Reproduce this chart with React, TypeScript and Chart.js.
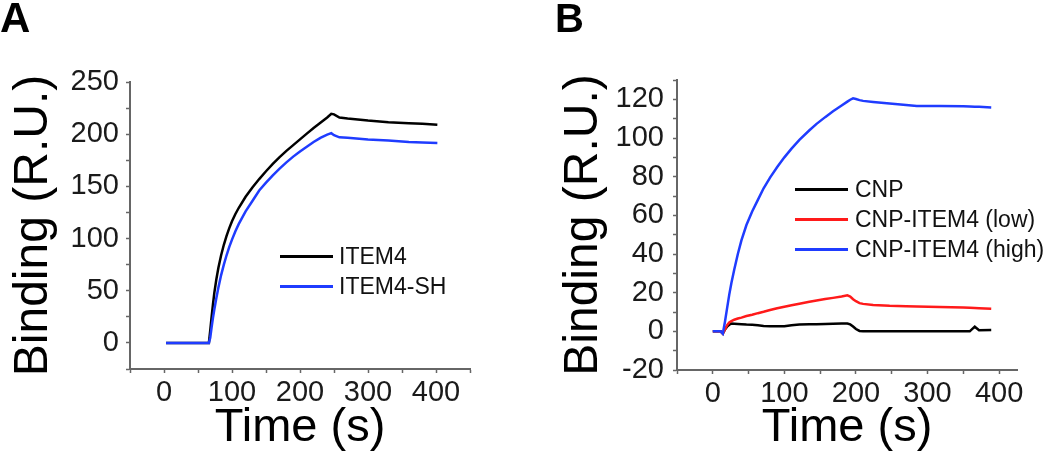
import { useEffect, useRef } from 'react';
import { Chart, registerables } from 'chart.js';

Chart.register(...registerables);

// ---------- Panel A data ----------
const timeA = [3, 30, 66, 68, 70, 72, 74, 77, 80, 84, 88, 92, 96, 100, 105, 110, 120, 130, 140, 150, 160, 170, 180, 190, 200, 210, 220, 230, 240, 246, 250, 258, 270, 300, 330, 360, 380, 402];
const item4 = [0, 0, 0, 12, 25, 37, 48, 61, 72, 84, 94, 102.5, 110, 116.5, 123.5, 129.5, 140, 149, 157, 164.5, 171.5, 178, 184, 189.5, 195, 200.5, 206, 211, 216, 219.5, 219, 216, 215, 213, 211.5, 210.5, 210, 209];
const item4SH = [0, 0, 0, 5, 15, 24, 32, 43, 53, 65, 75, 84, 92, 99, 107, 114, 126, 136, 146, 153.5, 160.5, 167, 173, 178.5, 183.5, 188, 192.5, 196.5, 199.5, 201, 199, 197, 196.5, 195, 194, 192.5, 192, 191.5];
const seriesNamesA = ['ITEM4', 'ITEM4-SH'];
const xLabelsA = [0, 100, 200, 300, 400];
const yLabelsA = [0, 50, 100, 150, 200, 250];

// ---------- Panel B data ----------
const timeB = [0, 11, 14, 17, 20, 23, 26, 30, 35, 40, 47, 55, 63, 71, 80, 90, 100, 110, 121, 135, 145, 157, 168, 180, 188, 192, 196, 200, 205, 210, 224, 247, 270, 285, 317, 350, 359, 366, 372, 389];
const cnp = [0, 0, -1.2, 1, 2.4, 3.4, 4, 3.9, 3.8, 3.7, 3.5, 3.4, 3.1, 2.8, 2.6, 2.6, 2.6, 3.2, 3.5, 3.6, 3.7, 3.8, 3.9, 4, 4, 3.6, 2.5, 1.2, 0.2, 0, 0, 0, 0, 0, 0, 0, 0, 2.4, 0.6, 0.7];
const cnpLow = [0, 0, -1.2, 1, 3.2, 4.6, 5.3, 6, 6.6, 7.1, 7.9, 8.6, 9.4, 10.1, 11, 11.9, 12.7, 13.5, 14.3, 15.3, 16, 16.7, 17.3, 18, 18.6, 18, 16.6, 15.6, 14.6, 14.2, 13.6, 13.2, 13, 12.8, 12.6, 12.3, 12.2, 12.1, 12, 11.7];
const cnpHigh = [0, 0, -1.2, 5, 12, 19, 25, 32, 40, 47, 55, 62, 68, 74, 79.5, 85, 90, 94.5, 99, 104, 107.3, 110.8, 113.8, 116.8, 118.8, 119.8, 120.5, 120.2, 119.6, 119.2, 118.6, 117.8, 117.1, 116.6, 116.6, 116.4, 116.3, 116.2, 116.1, 115.8];
const seriesNamesB = ['CNP', 'CNP-ITEM4 (low)', 'CNP-ITEM4 (high)'];
const xLabelsB = [0, 100, 200, 300, 400];
const yLabelsB = [-20, 0, 20, 40, 60, 80, 100, 120];

const FONT = "'Liberation Sans', Arial, Helvetica, sans-serif";
const AXIS = '#666666';
const BLACK = '#000000';
const BLUE = '#1f3cff';
const RED = '#ff1a1a';

const pts = (xs: number[], ys: number[]) => xs.map((x, i) => ({ x, y: ys[i] }));

const decorPlugin = {
  id: 'panelDecor',
  afterDraw(chart: any, _args: any, o: any) {
    const ctx = chart.ctx;
    ctx.save();
    // panel letter
    ctx.fillStyle = '#000';
    ctx.font = `bold ${o.letterSize}px ${FONT}`;
    ctx.textAlign = 'left';
    ctx.textBaseline = 'alphabetic';
    ctx.fillText(o.letter, o.letterX, o.letterY);
    // legend
    ctx.font = `${o.legendFont}px ${FONT}`;
    ctx.textBaseline = 'middle';
    chart.data.datasets.forEach((ds: any, i: number) => {
      const y = o.legendY + i * o.legendDy;
      ctx.strokeStyle = ds.borderColor;
      ctx.lineWidth = 3;
      ctx.beginPath();
      ctx.moveTo(o.legendX, y);
      ctx.lineTo(o.legendX + o.lineLen, y);
      ctx.stroke();
      ctx.fillStyle = '#111';
      ctx.fillText(ds.label, o.legendX + o.lineLen + o.textGap, y + 1);
    });
    ctx.restore();
  },
};

function axis(opts: any) {
  const { min, max, step, labels, position, fitSize, title, titlePad, tickPad } = opts;
  const horizontal = position === 'bottom';
  return {
    type: 'linear',
    position,
    min,
    max,
    ticks: {
      stepSize: step,
      autoSkip: false,
      includeBounds: false,
      maxRotation: 0,
      minRotation: 0,
      padding: tickPad,
      color: '#1a1a1a',
      font: { family: FONT, size: 29, lineHeight: 1.2 },
      callback: (v: number) => (labels.includes(v) ? String(v) : ''),
    },
    grid: {
      display: true,
      drawOnChartArea: false,
      drawTicks: true,
      tickLength: 4,
      tickColor: AXIS,
      tickWidth: 1.5,
    },
    border: { display: true, color: AXIS, width: 2 },
    title: {
      display: true,
      text: title,
      color: '#000',
      font: { family: FONT, size: horizontal ? 47 : 48, lineHeight: 1 },
      padding: horizontal ? { top: 0, bottom: titlePad } : { top: titlePad, bottom: 0 },
    },
    afterFit: (s: any) => {
      if (horizontal) s.height = fitSize;
      else s.width = fitSize;
    },
  };
}

const lineDs = (label: string, color: string, data: any[], order: number) => ({
  label,
  data,
  borderColor: color,
  backgroundColor: color,
  borderWidth: 2.5,
  pointRadius: 0,
  tension: 0,
  fill: false,
  order,
});

function configA(): any {
  return {
    type: 'line',
    data: {
      datasets: [
        lineDs(seriesNamesA[0], BLACK, pts(timeA, item4), 1),
        lineDs(seriesNamesA[1], BLUE, pts(timeA, item4SH), 0),
      ],
    },
    options: {
      animation: false,
      responsive: false,
      devicePixelRatio: 1,
      layout: { padding: { left: 0, top: 82, right: 55, bottom: 0 } },
      plugins: {
        legend: { display: false },
        tooltip: { enabled: false },
        panelDecor: {
          letter: 'A', letterX: 0, letterY: 32, letterSize: 42,
          legendX: 280, legendY: 256.5, legendDy: 30, lineLen: 53, textGap: 6, legendFont: 23,
        },
      },
      scales: {
        x: axis({ min: -50, max: 450, step: 50, labels: xLabelsA, position: 'bottom', fitSize: 89, title: 'Time (s)', titlePad: 6, tickPad: 3 }),
        y: axis({ min: -25, max: 250, step: 25, labels: yLabelsA, position: 'left', fitSize: 130, title: 'Binding (R.U.)', titlePad: 10, tickPad: 7 }),
      },
    },
    plugins: [decorPlugin],
  };
}

function configB(): any {
  return {
    type: 'line',
    data: {
      datasets: [
        lineDs(seriesNamesB[0], BLACK, pts(timeB, cnp), 2),
        lineDs(seriesNamesB[1], RED, pts(timeB, cnpLow), 1),
        lineDs(seriesNamesB[2], BLUE, pts(timeB, cnpHigh), 0),
      ],
    },
    options: {
      animation: false,
      responsive: false,
      devicePixelRatio: 1,
      layout: { padding: { left: 0, top: 80, right: 33, bottom: 0 } },
      plugins: {
        legend: { display: false },
        tooltip: { enabled: false },
        panelDecor: {
          letter: 'B', letterX: 30, letterY: 32, letterSize: 40,
          legendX: 270, legendY: 189.5, legendDy: 30, lineLen: 53, textGap: 7, legendFont: 23,
        },
      },
      scales: {
        x: axis({ min: -50, max: 425, step: 50, labels: xLabelsB, position: 'bottom', fitSize: 88, title: 'Time (s)', titlePad: 6, tickPad: 3 }),
        y: axis({ min: -20, max: 130, step: 10, labels: yLabelsB, position: 'left', fitSize: 152, title: 'Binding (R.U.)', titlePad: 35, tickPad: 9 }),
      },
    },
    plugins: [decorPlugin],
  };
}

function Panel({ make }: { make: () => any }) {
  const ref = useRef<HTMLCanvasElement | null>(null);
  useEffect(() => {
    if (!ref.current) return;
    const chart = new Chart(ref.current, make());
    return () => chart.destroy();
  }, [make]);
  return <canvas ref={ref} width={525} height={458} style={{ display: 'block', width: 525, height: 458 }} />;
}

export default function App() {
  return (
    <div style={{ position: 'absolute', left: 0, top: 0, width: 1050, height: 458, background: '#fff', display: 'flex' }}>
      <Panel make={configA} />
      <Panel make={configB} />
    </div>
  );
}
